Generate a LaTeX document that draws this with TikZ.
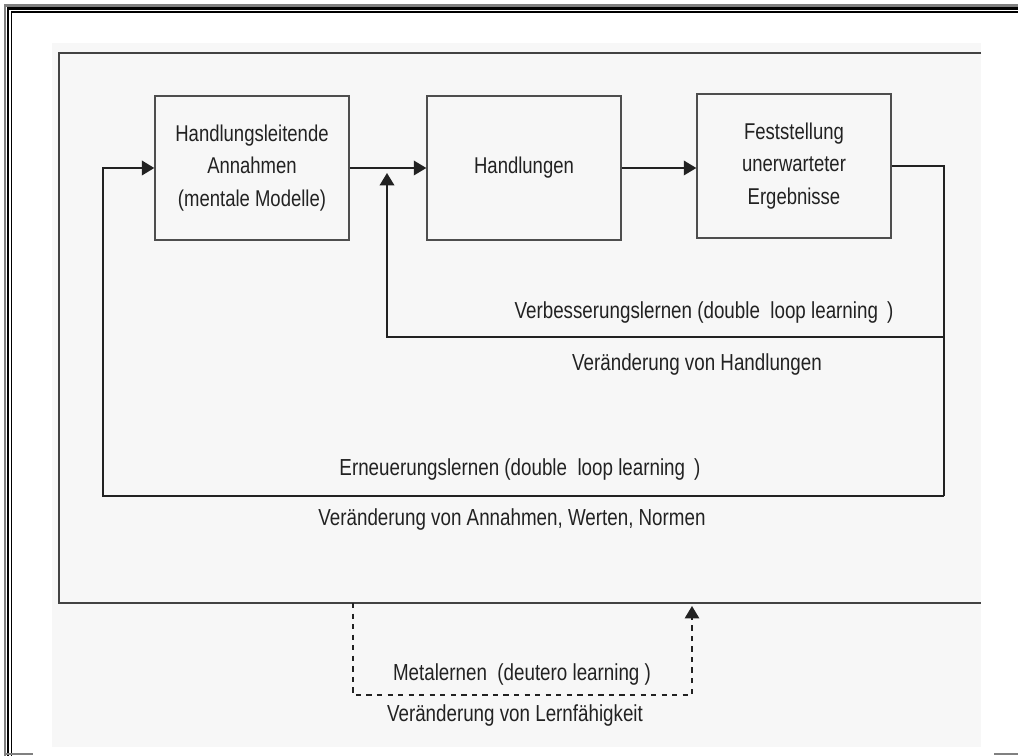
\documentclass[tikz,border=0pt]{standalone}
\usepackage{fontspec}
\usetikzlibrary{arrows.meta,positioning}
\newfontfamily\diafont[FakeStretch=0.81]{Liberation Sans}
\definecolor{panel}{HTML}{F7F7F7}
\definecolor{ink}{HTML}{222222}
\tikzset{
  box/.style={draw=ink!80, line width=0.8pt, minimum width=3.88cm, minimum height=2.88cm,
    align=center, font=\diafont\fontsize{13}{18.5}\selectfont, text=ink},
  lbl/.style={font=\diafont\fontsize{13.2}{15}\selectfont, text=ink, inner sep=1pt},
  flow/.style={draw=ink, line width=1.1pt, -{Triangle[length=0.25cm,width=0.29cm]}},
  loopline/.style={draw=ink, line width=1.3pt},
}
\begin{document}
\begin{tikzpicture}[x=0.02cm, y=-0.02cm]
\useasboundingbox (0,0) rectangle (1018,756);
% page frame
\draw [gray, line width=1.7pt] (5,756) -- (5,5.5) -- (1018,5.5);
\draw [black, line width=1.6pt] (8,756) -- (8,8.5) -- (1018,8.5);
\draw [black, line width=0.85pt] (11.5,756) -- (11.5,12) -- (1018,12);
\draw [gray, line width=1.5pt] (5,754) -- (33,754);
\draw [gray, line width=1.5pt] (994,754) -- (1018,754);
% panel and its open frame
\fill [panel] (52,43) rectangle (981,747);
\draw [ink!85, line width=1.3pt] (981,53) -- (59,53) -- (59,603) -- (981,603);
% boxes
\node[box] (annahmen) at (252,168) {Handlungsleitende\\Annahmen\\(mentale Modelle)};
\node[box] (handlungen) at (524,168) {Handlungen};
\node[box] (ergebnisse) at (794,166) {Feststellung\\unerwarteter\\Ergebnisse};
% corners of the loops
\coordinate (innerR) at (944,337);
\coordinate (innerL) at (387,337);
\coordinate (outerR) at (944,496);
\coordinate (outerL) at (103,496);
\coordinate (metaL) at (353,603);
\coordinate (metaLB) at (353,695);
\coordinate (metaRB) at (692,695);
\coordinate (metaR) at (692,603);
% single loop
\draw[flow] (annahmen.east) -- (handlungen.west);
\draw[flow] (handlungen.east) -- (ergebnisse.west |- handlungen.east);
% feedback loops
\draw[loopline] (ergebnisse.east) -| (outerR);
\draw[flow, line width=1.3pt] (innerR) -- (innerL) -- ([yshift=-0.1cm]innerL |- annahmen.east);
\draw[flow, line width=1.3pt] (outerR) -- (outerL) |- (annahmen.west);
\draw[flow, dashed, line width=0.9pt] (metaL) -- (metaLB) -- (metaRB) -- ([yshift=-0.06cm]metaR);
% labels
\node[lbl] (verbesserung) at (704,313) {Verbesserungslernen (double\ \ loop learning\ \,)};
\node[lbl] (handlungenNeu) at (697,365) {Veränderung von Handlungen};
\node[lbl] (erneuerung) at (520,470) {Erneuerungslernen (double\ \ loop learning\ \,)};
\node[lbl] (werte) at (512,520) {Veränderung von Annahmen, Werten, Normen};
\node[lbl] (meta) at (522,675) {Metalernen\ \ (deutero learning\ )};
\node[lbl] (lernfaehigkeit) at (515,716) {Veränderung von Lernfähigkeit};
\end{tikzpicture}
\end{document}
